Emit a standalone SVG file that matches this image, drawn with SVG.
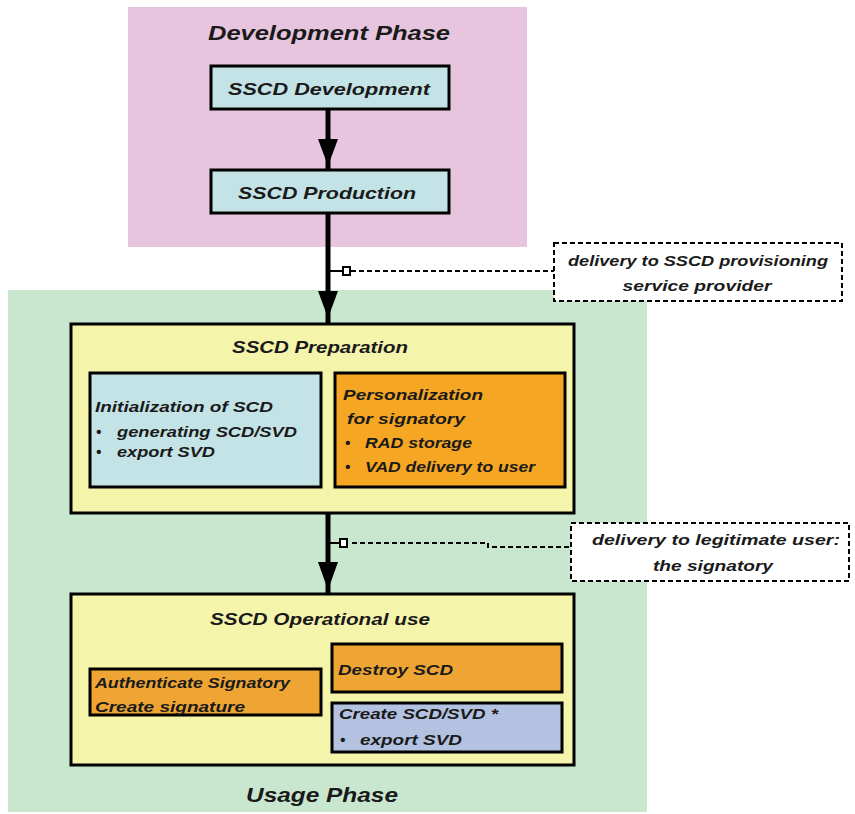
<svg xmlns="http://www.w3.org/2000/svg" width="855" height="814" viewBox="0 0 855 814">
<style>
.t{font-family:"Liberation Sans",Arial,sans-serif;font-weight:bold;font-style:italic;fill:#1a1a1a}
.ph{font-size:21px}
.hd{font-size:17px}
.tx{font-size:15px}
.box{stroke:#000;stroke-width:3}
.dash{fill:none;stroke:#000;stroke-width:2;stroke-dasharray:5,3}
</style>
<rect width="855" height="814" fill="#fff"/>
<g id="development-phase">
<rect x="128" y="7" width="399" height="240" fill="#e7c5de"/>
<text class="t ph" x="329" y="40" text-anchor="middle" textLength="242" lengthAdjust="spacingAndGlyphs">Development Phase</text>
</g>
<g id="usage-phase">
<rect x="8" y="290" width="639" height="522" fill="#c9e6cf"/>
<text class="t ph" x="322" y="802" text-anchor="middle" textLength="152" lengthAdjust="spacingAndGlyphs">Usage Phase</text>
</g>
<g id="sscd-development">
<rect class="box" x="211" y="66" width="238" height="43" fill="#c3e3e6"/>
<text class="t hd" x="329" y="95" text-anchor="middle" textLength="202" lengthAdjust="spacingAndGlyphs">SSCD Development</text>
</g>
<g id="sscd-production">
<rect class="box" x="211" y="170" width="238" height="43" fill="#c3e3e6"/>
<text class="t hd" x="327" y="199" text-anchor="middle" textLength="178" lengthAdjust="spacingAndGlyphs">SSCD Production</text>
</g>
<g id="sscd-preparation">
<rect class="box" x="71" y="324" width="503" height="189" fill="#f5f4ab"/>
<text class="t hd" x="320" y="353" text-anchor="middle" textLength="176" lengthAdjust="spacingAndGlyphs">SSCD Preparation</text>
</g>
<g id="initialization">
<rect class="box" x="90" y="373" width="231" height="114" fill="#c3e3e6"/>
<text class="t tx" x="95" y="412" textLength="178" lengthAdjust="spacingAndGlyphs">Initialization of SCD</text>
<text class="t tx" x="96" y="437">•</text>
<text class="t tx" x="117" y="437" textLength="180" lengthAdjust="spacingAndGlyphs">generating SCD/SVD</text>
<text class="t tx" x="96" y="457">•</text>
<text class="t tx" x="117" y="457" textLength="98" lengthAdjust="spacingAndGlyphs">export SVD</text>
</g>
<g id="personalization">
<rect class="box" x="335" y="373" width="230" height="114" fill="#f5a623"/>
<text class="t tx" x="343" y="400" textLength="140" lengthAdjust="spacingAndGlyphs">Personalization</text>
<text class="t tx" x="347" y="424" textLength="118" lengthAdjust="spacingAndGlyphs">for signatory</text>
<text class="t tx" x="345" y="448">•</text>
<text class="t tx" x="365" y="448" textLength="107" lengthAdjust="spacingAndGlyphs">RAD storage</text>
<text class="t tx" x="345" y="472">•</text>
<text class="t tx" x="365" y="472" textLength="170" lengthAdjust="spacingAndGlyphs">VAD delivery to user</text>
</g>
<g id="sscd-operational-use">
<rect class="box" x="71" y="594" width="503" height="171" fill="#f5f4ab"/>
<text class="t hd" x="320" y="625" text-anchor="middle" textLength="220" lengthAdjust="spacingAndGlyphs">SSCD Operational use</text>
</g>
<g id="authenticate">
<rect class="box" x="90" y="669" width="231" height="46" fill="#eea534"/>
<text class="t tx" x="95" y="688" textLength="195" lengthAdjust="spacingAndGlyphs">Authenticate Signatory</text>
<text class="t tx" x="95" y="712" textLength="150" lengthAdjust="spacingAndGlyphs">Create signature</text>
</g>
<g id="destroy-scd">
<rect class="box" x="332" y="644" width="230" height="48" fill="#eea534"/>
<text class="t tx" x="338" y="675" textLength="115" lengthAdjust="spacingAndGlyphs">Destroy SCD</text>
</g>
<g id="create-scd-svd">
<rect class="box" x="332" y="703" width="230" height="49" fill="#b4c2e1"/>
<text class="t tx" x="339" y="719" textLength="159" lengthAdjust="spacingAndGlyphs">Create SCD/SVD *</text>
<text class="t tx" x="340" y="745">•</text>
<text class="t tx" x="360" y="745" textLength="102" lengthAdjust="spacingAndGlyphs">export SVD</text>
</g>
<g id="note-provisioning">
<rect class="dash" x="554" y="243" width="288" height="58" fill="#fff" style="fill:#fff"/>
<text class="t tx" x="698" y="266" text-anchor="middle" textLength="260" lengthAdjust="spacingAndGlyphs">delivery to SSCD provisioning</text>
<text class="t tx" x="697" y="291" text-anchor="middle" textLength="149" lengthAdjust="spacingAndGlyphs">service provider</text>
</g>
<g id="note-legitimate-user">
<rect class="dash" x="571" y="523" width="278" height="58" style="fill:#fff"/>
<text class="t tx" x="716" y="545" text-anchor="middle" textLength="248" lengthAdjust="spacingAndGlyphs">delivery to legitimate user:</text>
<text class="t tx" x="713" y="571" text-anchor="middle" textLength="120" lengthAdjust="spacingAndGlyphs">the signatory</text>
</g>
<g id="connectors">
<line x1="328" y1="110" x2="328" y2="170" stroke="#000" stroke-width="5"/>
<polygon points="318,139 338,139 328,166" fill="#000"/>
<line x1="328" y1="214" x2="328" y2="324" stroke="#000" stroke-width="5"/>
<polygon points="318,291 338,291 328,318" fill="#000"/>
<line x1="328" y1="513" x2="328" y2="594" stroke="#000" stroke-width="5"/>
<polygon points="318,562 338,562 328,590" fill="#000"/>
<line x1="328" y1="271" x2="343" y2="271" stroke="#000" stroke-width="2"/>
<rect x="343" y="267" width="7" height="8" fill="#fff" stroke="#000" stroke-width="2"/>
<line class="dash" x1="351" y1="271" x2="554" y2="271"/>
<line x1="328" y1="543" x2="340" y2="543" stroke="#000" stroke-width="2"/>
<rect x="340" y="539" width="7" height="8" fill="#fff" stroke="#000" stroke-width="2"/>
<polyline class="dash" points="352,543 488,543 488,547 571,547"/>
</g>
</svg>
